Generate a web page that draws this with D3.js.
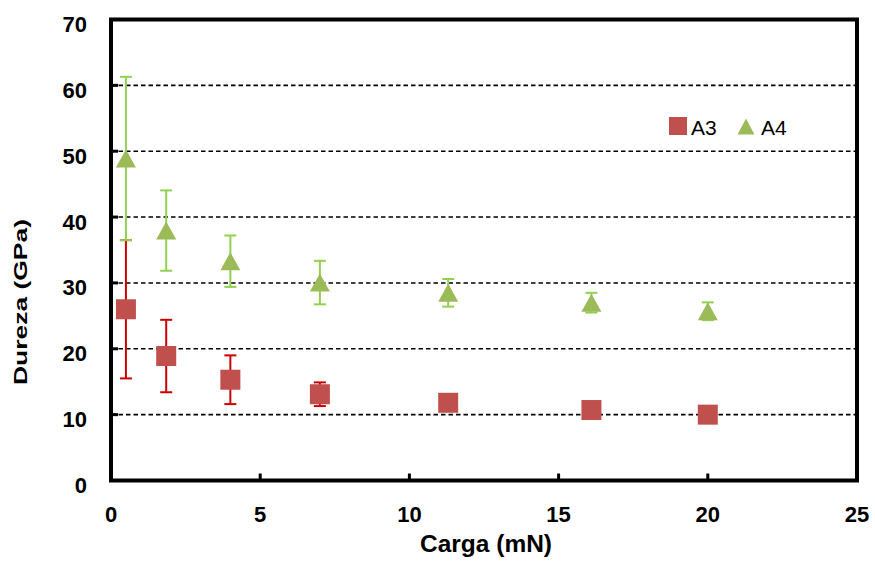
<!DOCTYPE html>
<html>
<head>
<meta charset="utf-8">
<script src="https://cdn.jsdelivr.net/npm/d3@7"></script>
<style>
  body { margin: 0; background: #fff; }
  svg { display: block; }
</style>
</head>
<body>
<script>
// carga (mN) de cada ensayo
var carga = [0.5, 1.85, 4, 7, 11.3, 16.1, 20];
// dureza (GPa) y su desviacion
var a3 = [26.0, 18.9, 15.3, 13.1, 11.8, 10.7, 10.0];
var a3Err = [10.5, 5.5, 3.7, 1.8, 0.8, 0.6, 0.5];
var a4 = [48.9, 37.95, 33.3, 30.05, 28.5, 27.0, 25.7];
var a4Err = [12.4, 6.1, 3.9, 3.3, 2.1, 1.5, 1.35];
var xTicks = [0, 5, 10, 15, 20, 25];
var yTicks = [0, 10, 20, 30, 40, 50, 60, 70];

var svg = d3.select('body').append('svg')
    .attr('width', 875)
    .attr('height', 567);

var x = d3.scaleLinear().domain([0, 25]).range([111, 857]);
var y = d3.scaleLinear().domain([0, 70]).range([480.5, 19.5]);

// lineas de cuadricula
svg.selectAll('line.grid')
    .data(yTicks.filter(function(d){ return d > 0 && d < 70; }))
    .enter().append('line')
    .attr('class', 'grid')
    .attr('x1', x(0)).attr('x2', x(25))
    .attr('y1', function(d){ return y(d); })
    .attr('y2', function(d){ return y(d); })
    .attr('stroke', '#000')
    .attr('stroke-width', 1.6)
    .attr('stroke-dasharray', '4.5,3');

// marcas de los ejes
svg.selectAll('line.ytick')
    .data(yTicks)
    .enter().append('line')
    .attr('class', 'ytick')
    .attr('x1', x(0)).attr('x2', x(0) + 7)
    .attr('y1', function(d){ return y(d); })
    .attr('y2', function(d){ return y(d); })
    .attr('stroke', '#000').attr('stroke-width', 3);

svg.selectAll('line.xtick')
    .data(xTicks)
    .enter().append('line')
    .attr('class', 'xtick')
    .attr('x1', function(d){ return x(d); })
    .attr('x2', function(d){ return x(d); })
    .attr('y1', y(0)).attr('y2', y(0) - 7)
    .attr('stroke', '#000').attr('stroke-width', 3);

// marco del area de trazado
svg.append('rect')
    .attr('x', x(0)).attr('y', y(70))
    .attr('width', x(25) - x(0))
    .attr('height', y(0) - y(70))
    .attr('fill', 'none')
    .attr('stroke', '#000')
    .attr('stroke-width', 4);

// etiquetas
svg.selectAll('text.ylab')
    .data(yTicks)
    .enter().append('text')
    .attr('class', 'ylab')
    .attr('x', 87)
    .attr('y', function(d){ return y(d) + 12.5; })
    .attr('text-anchor', 'end')
    .style('font', 'bold 22px "Liberation Sans", Arial, sans-serif')
    .text(function(d){ return d; });

svg.selectAll('text.xlab')
    .data(xTicks)
    .enter().append('text')
    .attr('class', 'xlab')
    .attr('x', function(d){ return x(d); })
    .attr('y', 522)
    .attr('text-anchor', 'middle')
    .style('font', 'bold 22px "Liberation Sans", Arial, sans-serif')
    .text(function(d){ return d; });

svg.append('text')
    .attr('x', 486).attr('y', 552)
    .attr('text-anchor', 'middle')
    .style('font', 'bold 24.5px "Liberation Sans", Arial, sans-serif')
    .text('Carga (mN)');

svg.append('text')
    .attr('transform', 'translate(27,302) rotate(-90)')
    .attr('text-anchor', 'middle')
    .attr('textLength', 166)
    .attr('lengthAdjust', 'spacingAndGlyphs')
    .style('font', 'bold 19px "Liberation Sans", Arial, sans-serif')
    .text('Dureza (GPa)');

// series
function errorBars(vals, errs, color, cls) {
    var g = svg.append('g').attr('stroke', color).attr('stroke-width', 2);
    g.selectAll('line.' + cls + 'v')
        .data(vals).enter().append('line')
        .attr('x1', function(d, i){ return x(carga[i]); })
        .attr('x2', function(d, i){ return x(carga[i]); })
        .attr('y1', function(d, i){ return y(d + errs[i]); })
        .attr('y2', function(d, i){ return y(d - errs[i]); });
    g.selectAll('line.' + cls + 't')
        .data(vals).enter().append('line')
        .attr('x1', function(d, i){ return x(carga[i]) - 6; })
        .attr('x2', function(d, i){ return x(carga[i]) + 6; })
        .attr('y1', function(d, i){ return y(d + errs[i]); })
        .attr('y2', function(d, i){ return y(d + errs[i]); });
    g.selectAll('line.' + cls + 'b')
        .data(vals).enter().append('line')
        .attr('x1', function(d, i){ return x(carga[i]) - 6; })
        .attr('x2', function(d, i){ return x(carga[i]) + 6; })
        .attr('y1', function(d, i){ return y(d - errs[i]); })
        .attr('y2', function(d, i){ return y(d - errs[i]); });
}

function triangle(cx, cy, w, h) {
    return 'M' + cx + ',' + (cy - h / 2) +
        'L' + (cx + w / 2) + ',' + (cy + h / 2) +
        'L' + (cx - w / 2) + ',' + (cy + h / 2) + 'Z';
}

errorBars(a3, a3Err, '#CC0000', 'a3');
svg.selectAll('rect.a3')
    .data(a3).enter().append('rect')
    .attr('class', 'a3')
    .attr('x', function(d, i){ return x(carga[i]) - 10; })
    .attr('y', function(d){ return y(d) - 10; })
    .attr('width', 20).attr('height', 20)
    .attr('fill', '#C0504D');

errorBars(a4, a4Err, '#92D050', 'a4');
svg.selectAll('path.a4')
    .data(a4).enter().append('path')
    .attr('class', 'a4')
    .attr('d', function(d, i){ return triangle(x(carga[i]), y(d), 20, 18); })
    .attr('fill', '#9BBB59');

// leyenda
svg.append('rect')
    .attr('x', 669).attr('y', 117).attr('width', 18).attr('height', 18)
    .attr('fill', '#C0504D');
svg.append('text')
    .attr('x', 691).attr('y', 135)
    .style('font', '21px "Liberation Sans", Arial, sans-serif')
    .text('A3');
svg.append('path')
    .attr('d', triangle(746, 126.5, 17, 16))
    .attr('fill', '#9BBB59');
svg.append('text')
    .attr('x', 761).attr('y', 135)
    .style('font', '21px "Liberation Sans", Arial, sans-serif')
    .text('A4');
</script>
</body>
</html>
